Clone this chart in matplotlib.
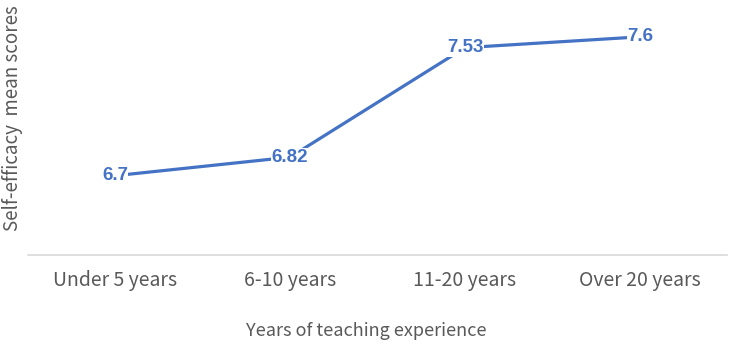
import matplotlib.pyplot as plt

plt.rcParams['font.family'] = ['Noto Sans CJK SC', 'DejaVu Sans']

categories = ['Under 5 years', '6-10 years', '11-20 years', 'Over 20 years']
scores = [6.7, 6.82, 7.53, 7.6]
score_labels = ['6.7', '6.82', '7.53', '7.6']

blue = '#4472C4'
grey = '#595959'

fig = plt.figure(figsize=(7.32, 3.45), dpi=100)
ax = fig.add_axes([0.0376, 0.2609, 0.9562, 0.7217])

xs = list(range(len(categories)))
ax.plot(xs, scores, color=blue, lw=2.3, solid_capstyle='round', zorder=2)

for x, y, s in zip(xs, scores, score_labels):
    ax.text(x, y, s, ha='center', va='center', fontsize=13.5, fontweight='bold',
            color=blue, fontfamily='Liberation Sans',
            bbox=dict(facecolor='white', edgecolor='none', pad=0.3), zorder=3)

ax.set_xlim(-0.5, len(categories) - 0.5)
ax.set_ylim(6.186, 7.8)
ax.set_xticks(xs)
ax.set_xticklabels(categories, fontsize=14, color=grey)
ax.tick_params(axis='x', length=0, pad=11)
ax.set_yticks([])

for side in ['top', 'right', 'left']:
    ax.spines[side].set_visible(False)
ax.spines['bottom'].set_color('#D9D9D9')
ax.spines['bottom'].set_linewidth(1.2)

fig.text(0.5, 0.04, 'Years of teaching experience', ha='center', va='center',
         fontsize=13, color=grey)
fig.text(0.0165, 0.658, 'Self-efficacy  mean scores', ha='center', va='center',
         rotation=90, fontsize=13.5, color=grey)

fig.savefig('out.png', dpi=100)
